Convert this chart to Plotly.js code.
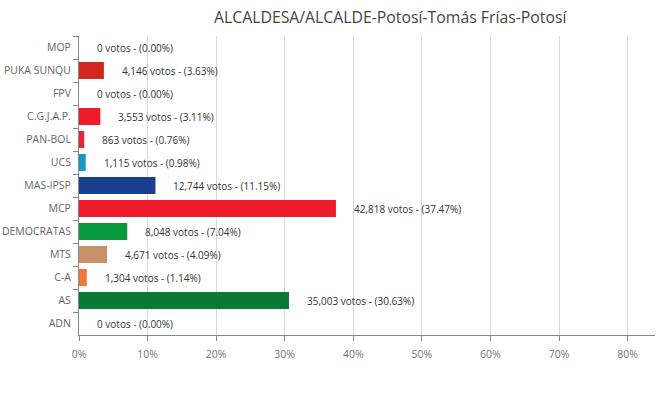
<!DOCTYPE html>
<html>
<head>
<meta charset="utf-8">
<script src="https://cdn.plot.ly/plotly-3.0.1.min.js"></script>
<style>html,body{margin:0;padding:0;background:#fff;}#chart{width:657px;height:399px;}</style>
</head>
<body>
<div id="chart"></div>
<script>
const categories = ["MOP","PUKA SUNQU","FPV","C.G.J.A.P.","PAN-BOL","UCS","MAS-IPSP","MCP","DEMOCRATAS","MTS","C-A","AS","ADN"];
const votes = [0,4146,0,3553,863,1115,12744,42818,8048,4671,1304,35003,0];
const percents = [0.00,3.63,0.00,3.11,0.76,0.98,11.15,37.47,7.04,4.09,1.14,30.63,0.00];
const colors = ["#cccccc","#d1271f","#cccccc","#ee1c2b","#e8243a","#1b97c6","#1a3f8f","#ee1c2b","#0a983f","#c8916a","#f0783a","#097a35","#cccccc"];
const xTickVals = [0,10,20,30,40,50,60,70,80];
const xTickText = ["0%","10%","20%","30%","40%","50%","60%","70%","80%"];

const fontFam = "'Open Sans', 'Noto Sans', sans-serif";
const trace = {
  type: "bar",
  orientation: "h",
  y: categories,
  x: percents,
  marker: {color: colors},
  hoverinfo: "none"
};
const annotations = categories.map((c, i) => ({
  x: percents[i], y: c, xref: "x", yref: "y",
  text: votes[i].toLocaleString("en-US") + " votos - (" + percents[i].toFixed(2) + "%)",
  showarrow: false, xanchor: "left", yanchor: "middle", xshift: 16,
  font: {family: fontFam, size: 10, color: "#333"}
}));
const layout = {
  width: 657, height: 399,
  margin: {l: 79, r: 2, t: 36, b: 64},
  paper_bgcolor: "#fff", plot_bgcolor: "#fff",
  title: {text: "ALCALDESA/ALCALDE-Potosí-Tomás Frías-Potosí", x: 0.594, xref: "container", xanchor: "center", y: 0.955, yanchor: "middle",
    font: {family: fontFam, size: 15.8, color: "#444"}},
  bargap: 0.26,
  showlegend: false,
  xaxis: {range: [0, 84], tickvals: xTickVals, ticktext: xTickText, showgrid: true, gridcolor: "#d9d9d9",
    zeroline: false, showline: true, linecolor: "#888", ticks: "outside", ticklen: 5, tickcolor: "#888",
    ticklabelstandoff: 4,
    tickfont: {family: fontFam, size: 10.5, color: "#777"}, fixedrange: true},
  yaxis: {type: "category", autorange: "reversed", showgrid: false, showline: true, linecolor: "#888",
    ticks: "outside", tickson: "boundaries", ticklen: 5, tickcolor: "#888", ticklabelstandoff: 5,
    tickfont: {family: fontFam, size: 10.5, color: "#666"}, fixedrange: true},
  annotations: annotations
};
Plotly.newPlot("chart", [trace], layout, {displayModeBar: false, staticPlot: true});
</script>
</body>
</html>
